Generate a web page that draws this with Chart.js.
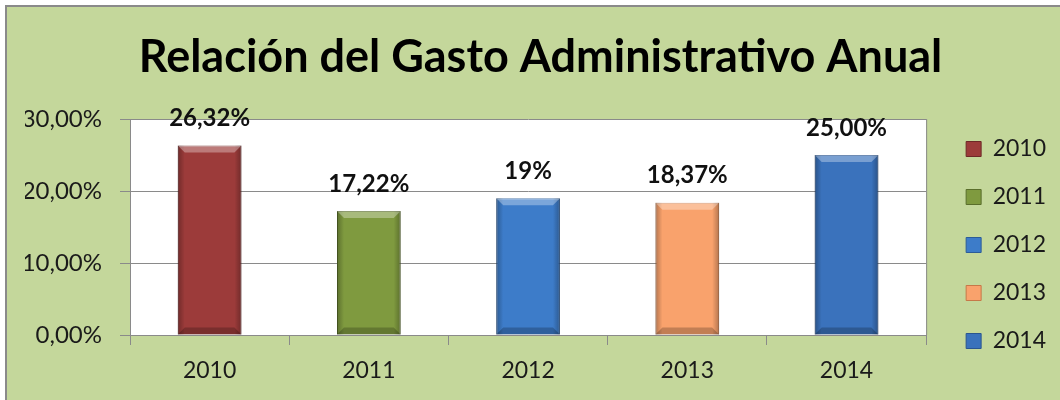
<!DOCTYPE html>
<html>
<head>
<meta charset="utf-8">
<script src="https://cdn.jsdelivr.net/npm/chart.js@4"></script>
<style>
    body { margin: 0; background: #ffffff; }
    #wrap {
        position: absolute; left: 5px; top: 5px;
        width: 1053px; height: 393px;
        border-top: 2px solid #8a8a8a; border-left: 2px solid #8a8a8a;
        background: #c4d79b;
    }
</style>
</head>
<body>
<div id="wrap"><canvas id="gasto" width="1053" height="393"></canvas></div>
<script>
/*--------------------DATA--------------------*/
let years = ['2010', '2011', '2012', '2013', '2014'];
let gasto = [26.32, 17.22, 19, 18.37, 25.00];
let gastoLabels = ['26,32%', '17,22%', '19%', '18,37%', '25,00%'];
let yTicks = [0, 10, 20, 30];
let barColors = ['#9c3b3a', '#7f9a3f', '#3d7cc9', '#f9a26c', '#3a72bc'];
let barBorders = ['#6e2827', '#5a6e2b', '#2c5c98', '#c67848', '#2a5590'];

/*--------------------PLUGINS--------------------*/
let plotBackground = {
    id: 'plotBackground',
    beforeDraw(chart) {
        let a = chart.chartArea;
        let ctx = chart.ctx;
        ctx.save();
        ctx.fillStyle = '#ffffff';
        ctx.fillRect(a.left, a.top, a.right - a.left, a.bottom - a.top);
        ctx.strokeStyle = '#8a8a8a';
        ctx.lineWidth = 1;
        ctx.beginPath();
        ctx.moveTo(a.right + 0.5, a.top);
        ctx.lineTo(a.right + 0.5, a.bottom);
        ctx.stroke();
        ctx.restore();
    }
};

// bevel look of the excel bars + labels above them
let barDecor = {
    id: 'barDecor',
    afterDatasetsDraw(chart) {
        let ctx = chart.ctx;
        let meta = chart.getDatasetMeta(0);
        ctx.save();
        meta.data.forEach((bar, i) => {
            let l = bar.x - bar.width / 2, r = bar.x + bar.width / 2;
            let t = bar.y, b = bar.base;
            let e = 7;
            let g = ctx.createLinearGradient(l, 0, l + e, 0);
            g.addColorStop(0, 'rgba(0,0,0,0.28)');
            g.addColorStop(1, 'rgba(0,0,0,0)');
            ctx.fillStyle = g;
            ctx.fillRect(l, t, e, b - t);
            g = ctx.createLinearGradient(r, 0, r - e, 0);
            g.addColorStop(0, 'rgba(0,0,0,0.28)');
            g.addColorStop(1, 'rgba(0,0,0,0)');
            ctx.fillStyle = g;
            ctx.fillRect(r - e, t, e, b - t);
            ctx.fillStyle = 'rgba(255,255,255,0.32)';
            ctx.beginPath();
            ctx.moveTo(l, t); ctx.lineTo(r, t); ctx.lineTo(r - e, t + e); ctx.lineTo(l + e, t + e);
            ctx.fill();
            ctx.fillStyle = 'rgba(0,0,0,0.22)';
            ctx.beginPath();
            ctx.moveTo(l, b); ctx.lineTo(r, b); ctx.lineTo(r - e, b - e); ctx.lineTo(l + e, b - e);
            ctx.fill();

            ctx.fillStyle = '#111111';
            ctx.font = 'bold 24px Lato';
            ctx.textAlign = 'center';
            ctx.textBaseline = 'middle';
            ctx.fillText(gastoLabels[i], bar.x, bar.y - 27);
        });
        ctx.restore();
    }
};

/*--------------------CHART--------------------*/
let canvas = document.getElementById('gasto');
let chart = new Chart(canvas, {
    type: 'bar',
    data: {
        labels: years,
        datasets: [{
            data: gasto,
            backgroundColor: barColors,
            borderColor: barBorders,
            borderWidth: 1,
            barPercentage: 0.4,
            categoryPercentage: 1
        }]
    },
    options: {
        responsive: false,
        animation: false,
        layout: { padding: { left: 18, right: 4, top: 0, bottom: 0 } },
        plugins: {
            title: {
                display: true,
                text: 'Relación del Gasto Administrativo Anual',
                color: '#000000',
                font: { family: 'Lato', size: 45, weight: 'bold' },
                padding: { top: 23, bottom: 35 }
            },
            legend: {
                position: 'right',
                align: 'start',
                title: { display: true, text: '', font: { size: 10 }, padding: { top: 93.5, bottom: 0 } },
                labels: {
                    color: '#1a1a1a',
                    font: { family: 'Lato', size: 23 },
                    boxWidth: 15,
                    boxHeight: 15,
                    padding: 25,
                    generateLabels: () => years.map((y, i) => ({
                        text: y,
                        fillStyle: barColors[i],
                        strokeStyle: barBorders[i],
                        fontColor: '#1a1a1a',
                        lineWidth: 1,
                        index: i
                    }))
                }
            },
            tooltip: { enabled: false }
        },
        scales: {
            x: {
                grid: { drawOnChartArea: false, color: '#8a8a8a', tickLength: 10 },
                border: { color: '#8a8a8a' },
                ticks: { color: '#1a1a1a', font: { family: 'Lato', size: 23 }, padding: 12 },
                afterFit(scale) { scale.height = 65; }
            },
            y: {
                min: 0,
                max: 30,
                afterBuildTicks(scale) { scale.ticks = yTicks.map(v => ({ value: v })); },
                grid: { color: '#8a8a8a', tickLength: 10 },
                border: { color: '#8a8a8a' },
                ticks: {
                    color: '#1a1a1a',
                    font: { family: 'Lato', size: 24 },
                    padding: 18,
                    callback: (v) => v.toFixed(2).replace('.', ',') + '%'
                },
                afterFit(scale) { scale.width = 105; }
            },
            yR: {
                type: 'linear',
                position: 'right',
                grid: { display: false },
                border: { display: false },
                ticks: { display: false },
                afterFit(scale) { scale.width = 15; }
            }
        }
    },
    plugins: [plotBackground, barDecor]
});
</script>
</body>
</html>
